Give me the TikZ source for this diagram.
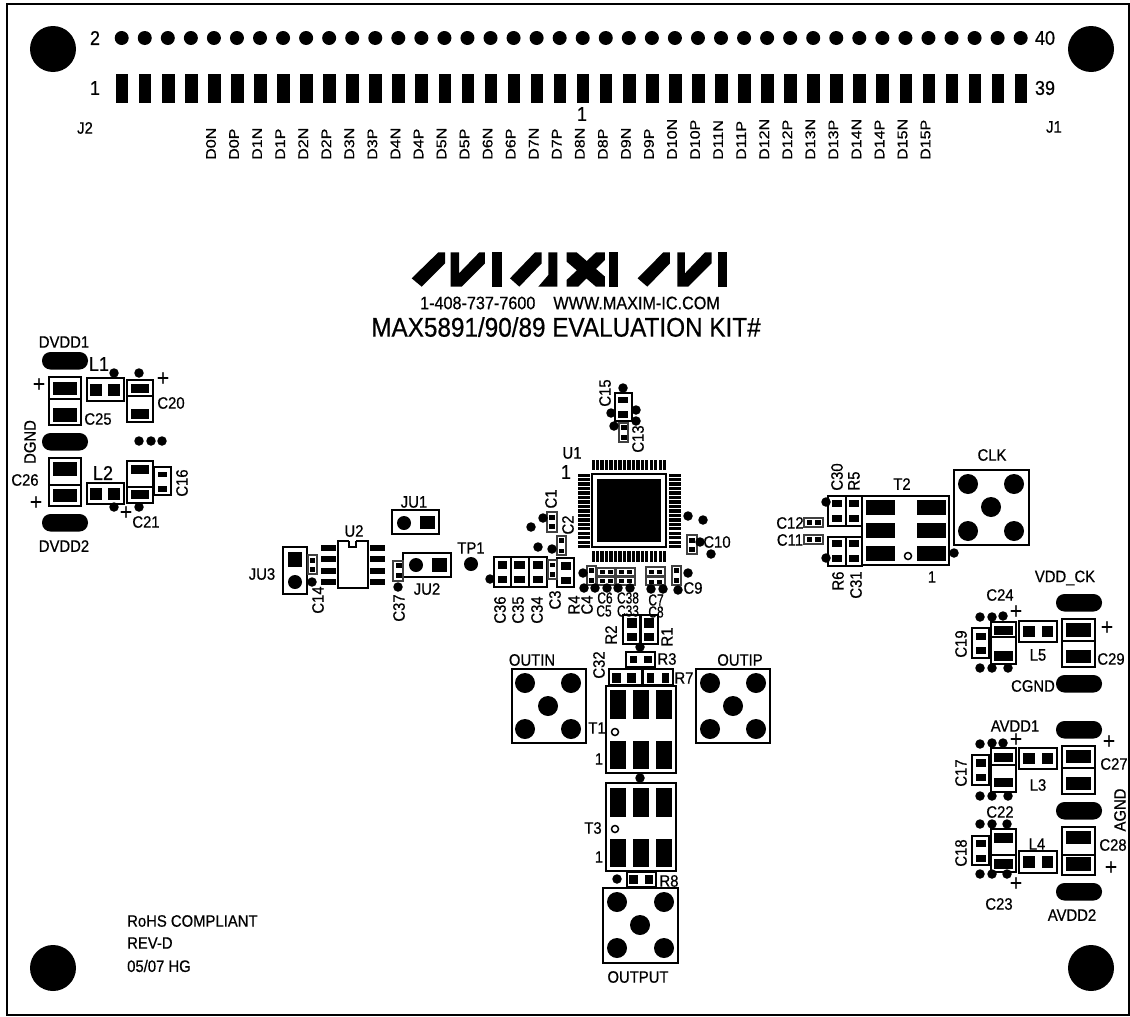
\documentclass[tikz,border=0pt]{standalone}
\usepackage{fontspec}
\setmainfont[FakeStretch=0.9,FakeBold=0.6]{Liberation Sans}

\begin{document}
\begin{tikzpicture}[x=1pt, y=-1pt,
	boxline/.style={draw, line width=2.4pt},
	thinline/.style={draw=black!75, line width=1.4pt},
	lbl/.style={inner sep=0pt, font=\fontsize{16.5}{16.5}\selectfont},
	lblsig/.style={inner sep=0pt, font=\fontsize{14}{14}\selectfont, transform shape, rotate=90, xscale=1.27, anchor=west},
	lblsm/.style={inner sep=0pt, font=\fontsize{16}{16}\selectfont, transform shape, xscale=0.83},
	lblbig/.style={inner sep=0pt, font=\fontsize{20}{20}\selectfont},
	plussign/.style={inner sep=0pt, font=\fontsize{23}{23}\selectfont},
	dotsm/.style={circle, fill, inner sep=0pt, minimum size=9.5pt},
	dotpin/.style={circle, fill, inner sep=0pt, minimum size=14pt},
	dotbnc/.style={circle, fill, inner sep=0pt, minimum size=20pt},
	dothole/.style={circle, fill, inner sep=0pt, minimum size=46pt},
	ringpin/.style={circle, draw, line width=1.5pt, inner sep=0pt, minimum size=7pt},
	pill/.style={rounded corners=8.5pt}]
\useasboundingbox (0,0) rectangle (1130,1017);
\draw[line width=2pt] (6.5,3.5) rectangle (1129,1014.5);
\foreach \x/\y [count=\i] in {53/49,1091/49,53/968,1091/968}
	\node[dothole] (hole\i) at (\x,\y) {};
\foreach \i in {0,...,39} {
	\node[dotpin] (top\i) at ({121.7+\i*23.05},38) {};
	\fill ({115.8+\i*23.05},73.5) rectangle ++(12.6,29);
}
\foreach \t [count=\i from 0] in {D0N,D0P,D1N,D1P,D2N,D2P,D3N,D3P,D4N,D4P,D5N,D5P,D6N,D6P,D7N,D7P,D8N,D8P,D9N,D9P,D10N,D10P,D11N,D11P,D12N,D12P,D13N,D13P,D14N,D14P,D15N,D15P}
	\node[lblsig] (sig\i) at ({211+\i*23.05},160) {\t};
\foreach \t/\x/\y [count=\i] in {2/95/38,1/95/88,40/1045/38,39/1045/88}
	\node[lblbig] (pin\i) at (\x,\y) {\t};
\foreach \t/\x/\y [count=\i] in {J2/85/128,J1/1054/127}
	\node[lbl] (conn\i) at (\x,\y) {\t};
\node[lblbig] (pincenter) at (582,114) {1};

\begin{scope}[xshift=410pt, yshift=-245pt, x=0.3333pt, y=-0.3333pt]
\fill (85,22) -- (105,22) -- (105,55) -- (35,125) -- (5,100) -- cycle;
\fill (122,22) -- (147,22) -- (147,85) -- (208,22) -- (225,22) -- (225,55) -- (155,125) -- (122,125) -- cycle;
\fill (245,22) rectangle (275,125);
\fill (375,22) -- (395,22) -- (395,55) -- (328,125) -- (300,100) -- cycle;
\fill (385,125) -- (415,90) -- (415,22) -- (442,22) -- (442,125) -- cycle;
\fill (470,22) -- (500,22) -- (585,95) -- (585,125) -- (558,125) -- (470,50) -- cycle;
\fill (558,22) -- (585,22) -- (585,45) -- (505,125) -- (470,125) -- (470,105) -- cycle;
\fill (598,22) rectangle (625,125);
\fill (760,22) -- (780,22) -- (780,55) -- (712,125) -- (683,100) -- cycle;
\fill (802,22) -- (825,22) -- (825,85) -- (885,22) -- (905,22) -- (905,55) -- (835,125) -- (802,125) -- cycle;
\fill (925,22) rectangle (952,125);
\end{scope}
\node[inner sep=0pt, font=\fontsize{18}{18}\selectfont] (phone) at (570,303) {1-408-737-7600\hspace{1em}WWW.MAXIM-IC.COM};
\node[inner sep=0pt, font=\fontsize{27}{27}\selectfont] (title) at (566,327) {MAX5891/90/89 EVALUATION KIT\#};

\foreach \x/\y [count=\i] in {42/352,42/433,42/514,1056/594,1056/675,1056/721,1056/802,1056/883}
	\fill[pill] (\x,\y) rectangle ++(46,17.5);

\foreach \a/\b/\c/\d/\m in {49/377/81/425/399, 127/380/153/422/396, 49/458/81/506/485, 127/461/153/503/487, 991/622/1016/664/637, 1062/619/1095/667/641, 991/748/1016/792/765, 1062/746/1095/794/768, 991/829/1016/872/855, 1062/827/1095/875/855}
	\draw[boxline] (\a,\b) rectangle (\c,\d) (\a,\m) -- (\c,\m);

\foreach \a/\b/\c/\d in {87/378/124/401, 87/483/124/504, 392/510/439/534, 283/547/307/594, 403/553/451/577, 338/541/368/588, 615/393/632/421, 592/474/666/547, 494/557/511/587, 511/557/529/587, 529/557/547/587, 557/558/574/587, 623/615/640/644, 641/615/658/644, 626/652/655/667, 609/669/642/685, 643/669/673/685, 512/669/586/743, 696/669/770/743, 606/686/676/773, 606/783/676/871, 627/872/656/887, 603/888/678/963, 862/496/949/565, 828/496/846/526, 846/496/862/526, 828/537/846/566, 846/537/862/566, 954/470/1029/545, 154/467/171/495, 972/628/989/658, 1019/621/1057/642, 972/755/989/785, 1019/748/1057/769, 972/836/989/865, 1019/851/1057/873}
	\draw[boxline] (\a,\b) rectangle (\c,\d);

\foreach \a/\b/\c/\d in {308/555/317/574, 393/561/403/581, 619/423/628/442, 547/512/557/532, 557/536/566/555, 548/560/557/579, 587/566/596/585, 597/568/615/576, 616/568/635/576, 597/577/615/585, 616/577/635/585, 646/567/665/576, 646/577/665/585, 672/566/681/585, 687/535/697/554, 804/518/823/527, 804/535/823/544}
	\draw[thinline] (\a,\b) rectangle (\c,\d);

\fill[white] (349,539) rectangle (356,547);
\draw[line width=2pt] (349,541) -- (349,547) -- (356,547) -- (356,541);

\foreach \a/\b/\c/\d in {53/382/77/395, 53/408/77/422, 90/384/102/396, 108/384/120/396, 131/384/149/393, 131/409/149/419, 53/462/77/476, 53/489/77/502, 90/488/102/500, 108/488/120/500, 131/465/149/474, 131/490/149/499, 158/472/167/477, 158/486/167/492, 420/516/435/529, 288/552/302/567, 432/558/447/572, 321/545/336/551, 321/556/336/562, 321/568/336/574, 321/579/336/585, 370/545/385/551, 370/556/385/562, 370/568/385/574, 370/579/385/585, 310/558/315/563, 310/567/315/572, 396/563/402/568, 396/573/402/578, 618/397/628/403, 618/411/628/418, 621/425/627/430, 621/435/627/440, 597/479/661/542, 549/515/555/520, 549/524/555/529, 559/538/564/543, 559/549/564/553, 498/561/507/569, 498/576/507/583, 514/561/525/569, 514/576/525/583, 533/561/543/569, 533/576/543/583, 550/563/555/567, 550/572/555/577, 561/562/571/570, 561/577/571/584, 589/568/594/573, 589/578/594/583, 600/570/605/574, 608/570/613/574, 619/570/624/574, 627/570/632/574, 600/579/605/583, 608/579/613/583, 619/579/624/583, 627/579/632/583, 649/570/654/574, 657/570/662/574, 649/580/654/584, 657/580/662/584, 674/568/679/573, 674/578/679/583, 689/538/695/543, 689/547/695/552, 627/618/637/628, 627/633/637/641, 644/618/654/628, 644/633/654/641, 630/656/637/663, 644/656/652/663, 612/673/621/683, 627/673/636/683, 647/673/654/683, 662/673/669/683, 610/690/626/719, 633/690/649/719, 656/690/672/719, 610/741/626/769, 633/741/649/769, 656/741/672/769, 610/788/626/817, 633/788/649/817, 656/788/672/817, 610/839/626/867, 633/839/649/867, 656/839/672/867, 629/875/638/884, 645/875/653/884, 866/500/895/515, 866/523/895/538, 866/546/895/561, 917/500/946/515, 917/523/946/538, 917/546/946/561, 832/500/842/507, 832/515/842/522, 849/500/859/507, 849/515/859/522, 832/540/842/547, 832/555/842/562, 849/540/859/547, 849/555/859/562, 807/520/812/525, 815/520/821/525, 807/537/812/542, 815/537/821/542, 976/633/986/640, 976/647/986/654, 994/626/1013/635, 994/651/1013/661, 1023/626/1035/637, 1042/626/1053/637, 1066/623/1091/637, 1066/650/1091/663, 976/759/986/767, 976/774/986/781, 994/753/1013/762, 994/778/1013/787, 1023/753/1035/764, 1042/753/1053/764, 1066/750/1091/763, 1066/777/1091/790, 976/840/986/847, 976/855/986/862, 994/833/1013/843, 994/859/1013/869, 1023/856/1035/868, 1042/856/1053/868, 1066/831/1091/844, 1066/857/1091/871}
	\fill (\a,\b) rectangle (\c,\d);

\foreach \i in {0,...,16} {
	\fill ({591.5+\i*4.47},460) rectangle ++(3.3,10);
	\fill ({591.5+\i*4.47},551) rectangle ++(3.3,11);
	\fill (578,{473.5+\i*4.47}) rectangle ++(12,3.3);
	\fill (669,{473.5+\i*4.47}) rectangle ++(12,3.3);
}

\foreach \x/\y [count=\i] in {114/373,139/373,139/441,151/441,162/441,114/507,139/507,312/582,398/587,623/388,611/413,636/410,636/421,614/426,543/518,531/527,552/549,538/547,490/579,583/573,584/588,595/588,607/588,618/588,630/588,651/589,663/589,688/573,678/590,688/516,703/520,700/542,711/554,640/647,640/778,617/879,826/502,826/558,954/553,980/617,992/617,1003/616,980/668,992/668,1008/668,980/744,992/743,1003/743,980/796,992/796,1008/796,980/824,992/824,1007/824,980/874,992/874,1007/874}
	\node[dotsm] (via\i) at (\x,\y) {};
\foreach \x/\y [count=\i] in {404/523,295/582,416/565,471/564}
	\node[dotpin] (jmp\i) at (\x,\y) {};
\foreach \x/\y [count=\i] in {525/683,571/683,548/706,525/729,571/729,710/683,756/683,733/706,710/729,756/729,617/902,664/902,640/925,617/948,664/948,968/484,1014/484,991/507,968/531,1014/531}
	\node[dotbnc] (bnc\i) at (\x,\y) {};
\foreach \x/\y [count=\i] in {615/732,615/829,908/556}
	\node[ringpin] (mark\i) at (\x,\y) {};

\foreach \t/\x/\y [count=\i] in {DVDD1/64/342,C25/98/419,C20/171/403,C26/25/480,C21/146/522,DVDD2/64/546,JU1/414/502,U2/354/531,JU3/262/574,JU2/427/589,TP1/471/548,U1/572/453,C9/693/588,C10/717/542,R3/667/659,R7/684/678,OUTIN/532/660,OUTIP/740/660,T1/597/728,T3/593/828,R8/669/881,OUTPUT/638/977,T2/902/484,CLK/992/455,C12/790/523,C11/790/540,VDD\_CK/1065/578,C24/1000/595,C29/1111/659,CGND/1033/686,L5/1038/655,AVDD1/1015/726,C27/1114/764,L3/1038/785,C22/1000/812,L4/1037/844,C28/1113/845,C23/999/904,AVDD2/1072/915,1/599/759,1/599/857,1/932/577}
	\node[lbl] (name\i) at (\x,\y) {\t};
\foreach \t/\x/\y [count=\i] in {L1/99/364,L2/103/473,1/566/472}
	\node[lblbig] (big\i) at (\x,\y) {\t};
\foreach \t/\x/\y [count=\i] in {C6/605/598,C38/628/598,C5/604/611,C33/628/611,C7/656/600,C8/656/612}
	\node[lblsm] (small\i) at (\x,\y) {\t};
\foreach \t/\x/\y [count=\i] in {DGND/30/442,C16/182/483,C14/318/600,C37/399/608,C15/605/393,C13/638/439,C1/551/499,C2/568/525,C36/500/610,C35/518/610,C34/537/610,C3/555/600,R4/574/605,C4/587/605,R2/611/635,R1/667/637,C32/599/665,C30/837/477,R5/854/481,R6/838/581,C31/856/585,C19/961/644,C17/961/773,AGND/1120/810,C18/961/853}
	\node[lbl, rotate=90] (vert\i) at (\x,\y) {\t};
\foreach \x/\y [count=\i] in {39/385,163/379,36/503,126/513,1016/612,1107/628,1016/740,1109/742,1111/868,1016/884}
	\node[plussign] (plus\i) at (\x,\y) {+};
\foreach \t/\y [count=\i] in {RoHS COMPLIANT/921,REV-D/943,{05/07 HG}/966}
	\node[lbl, anchor=west] (note\i) at (127,\y) {\t};
\end{tikzpicture}
\end{document}
